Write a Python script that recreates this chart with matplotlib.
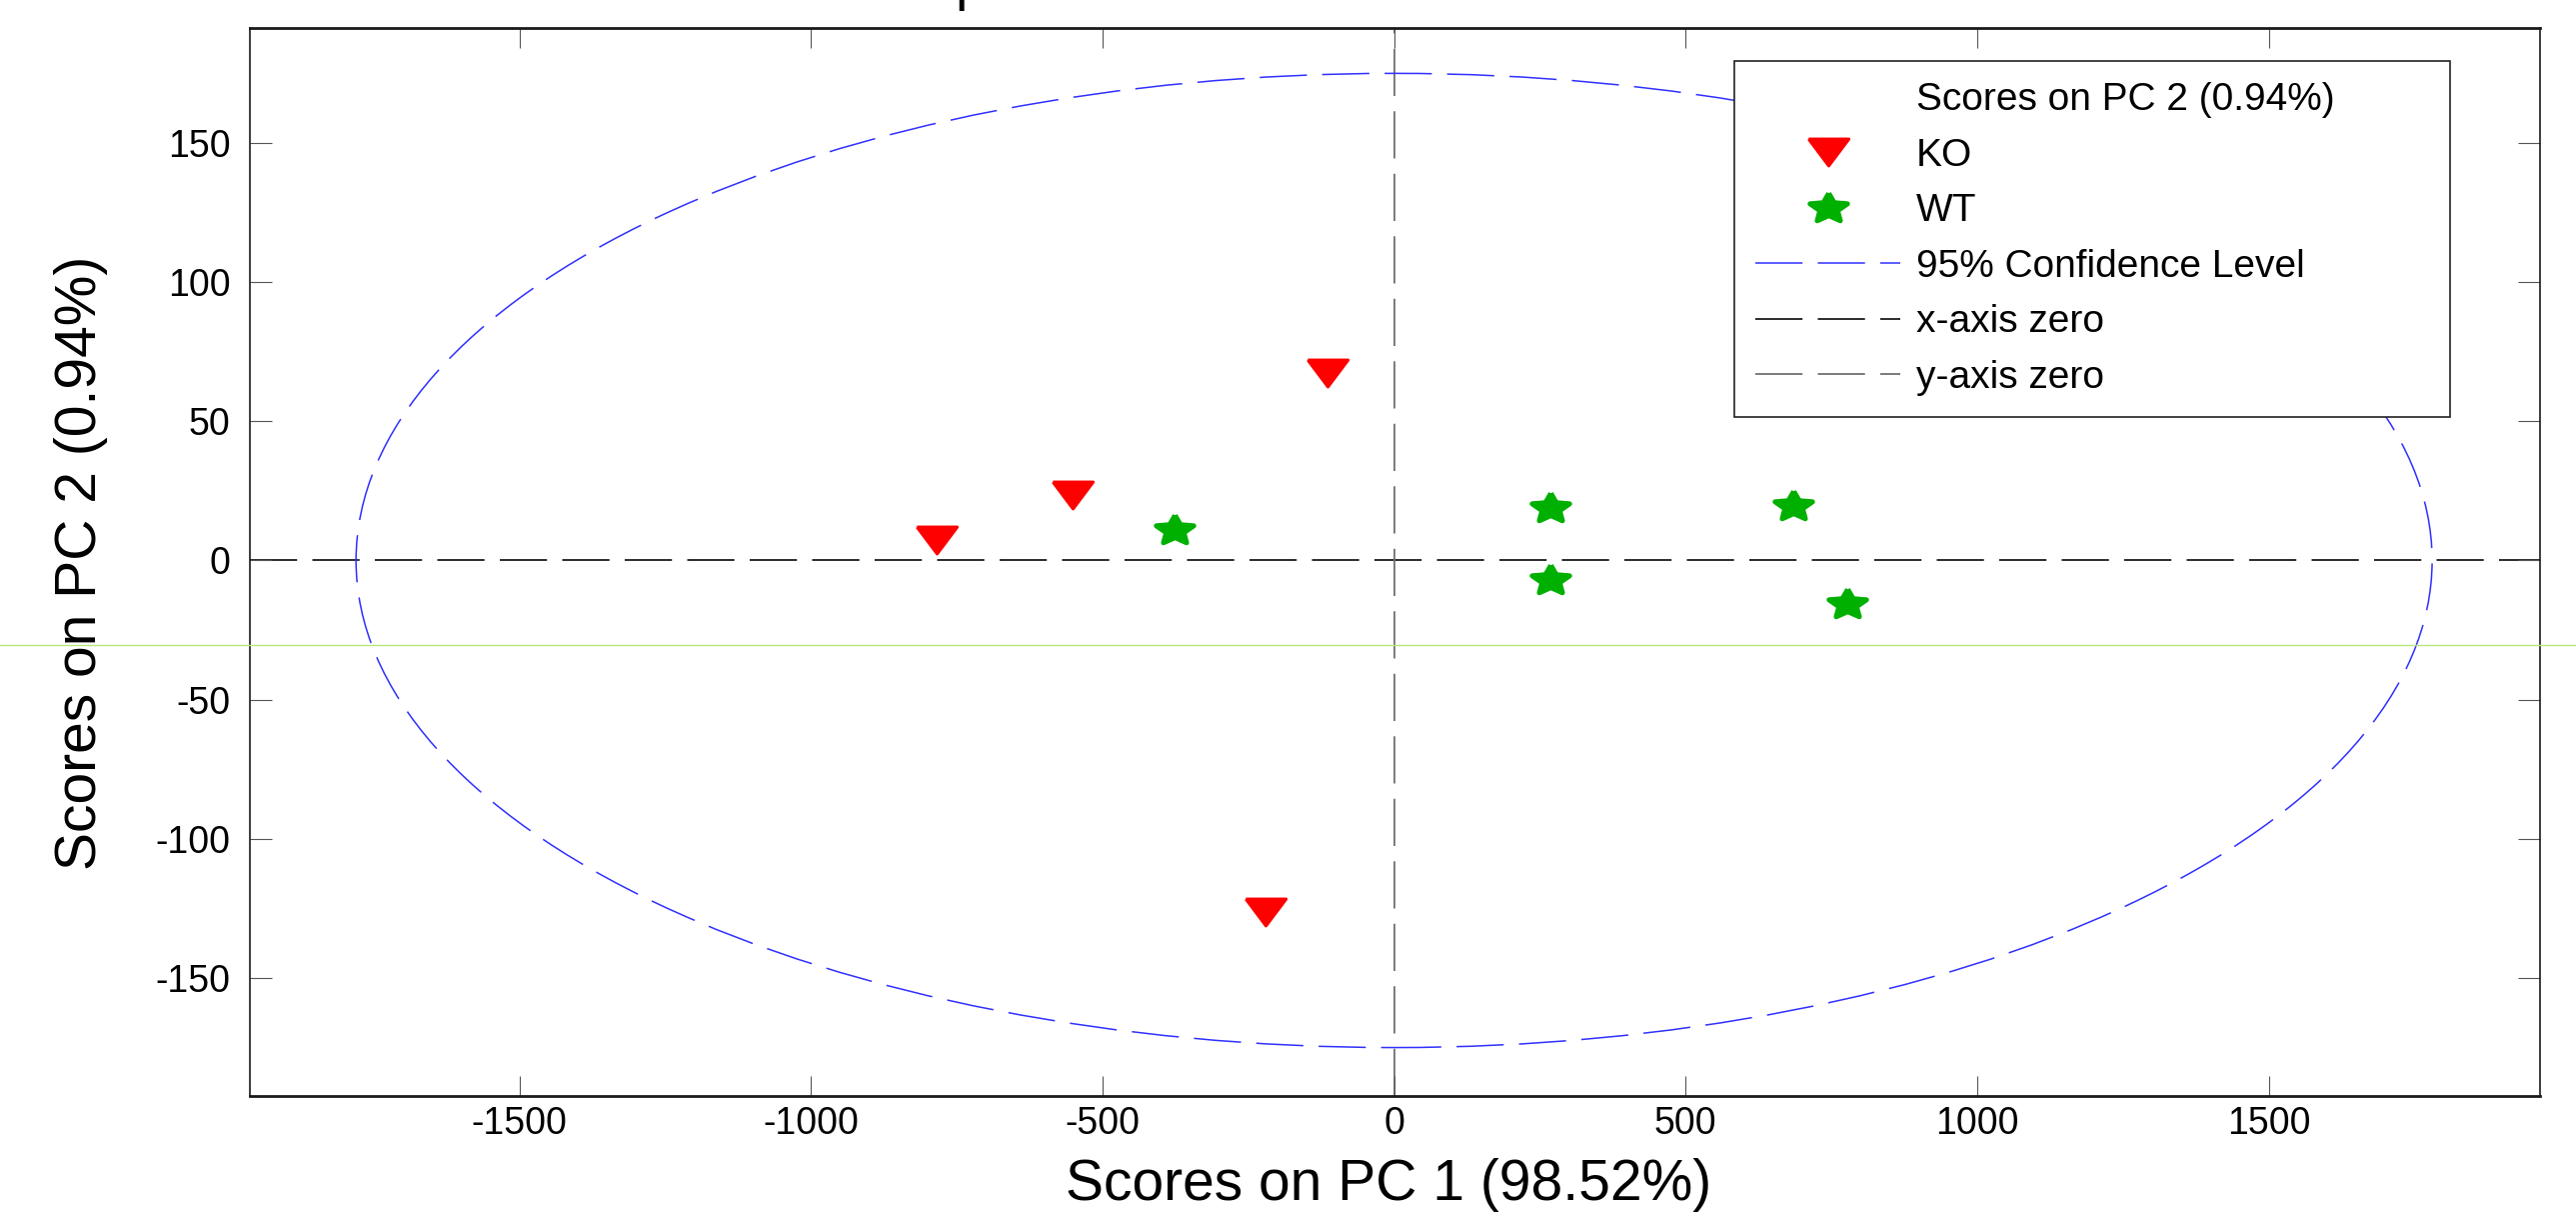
import numpy as np
import matplotlib
matplotlib.use("Agg")
import matplotlib.pyplot as plt
from matplotlib.lines import Line2D
from matplotlib.patches import Ellipse
from matplotlib.markers import MarkerStyle
import matplotlib.transforms as mtransforms

plt.rcParams['font.family'] = ['Liberation Sans', 'DejaVu Sans']
plt.rcParams['lines.scale_dashes'] = False

# ---------------- data ----------------
ko_x = [-784, -551, -115, -220]
ko_y = [7.3, 23.5, 67.5, -126.3]
wt_x = [-376, 268, 268, 685, 777]
wt_y = [11.1, 18.7, -7.0, 19.7, -15.6]

ellipse_semi_x = 1780
ellipse_semi_y = 175

xticks = [-1500, -1000, -500, 0, 500, 1000, 1500]
yticks = [-150, -100, -50, 0, 50, 100, 150]
xlim = (-1962, 1965)
ylim = (-192.4, 191.3)

guide_y = -30.5  # light green horizontal line across the whole figure

xlabel = "Scores on PC 1 (98.52%)"
ylabel = "Scores on PC 2 (0.94%)"
legend_labels = ["Scores on PC 2 (0.94%)", "KO", "WT",
                 "95% Confidence Level", "x-axis zero", "y-axis zero"]
title_text = "Samples/Scores Plot"

# ---------------- styles ----------------
W, H = 2577, 1221
fig = plt.figure(figsize=(W / 100, H / 100), dpi=100)
L, R, T, B = 250, 2541, 28, 1096
ax = fig.add_axes([L / W, 1 - B / H, (R - L) / W, (B - T) / H])

dash = (0, (34, 11))
red = '#ff0000'
green = '#00b000'
blue = '#3030ff'

tri_verts = [(-1.5, 1.0), (1.5, 1.0), (0.0, -1.0), (-1.5, 1.0)]
ang = np.deg2rad(90 + np.arange(10) * 36)
rad = np.where(np.arange(10) % 2 == 0, 1.0, 0.47)
star_verts = [(1.3 * r * np.cos(a), r * np.sin(a)) for r, a in zip(rad, ang)]
star_verts.append(star_verts[0])
tri = MarkerStyle(tri_verts, joinstyle='round')
star = MarkerStyle(star_verts, joinstyle='round')

# ellipse
ell = Ellipse((0, 0), 2 * ellipse_semi_x, 2 * ellipse_semi_y, fill=False,
              edgecolor=blue, linewidth=1.1, linestyle=dash, zorder=2)
ax.add_patch(ell)

# zero lines
ax.axhline(0, color='#1a1a1a', linewidth=1.3, linestyle=dash, zorder=1)
ax.axvline(0, color='#707070', linewidth=1.3, linestyle=dash, zorder=1)

# points
tri_kw = dict(marker=tri, markersize=29, markerfacecolor=red,
              markeredgecolor=red, markeredgewidth=2.2)
star_kw = dict(marker=star, markersize=27, markerfacecolor=green,
               markeredgecolor=green, markeredgewidth=3.6)
ax.plot(ko_x, ko_y, linestyle='none', zorder=3, **tri_kw)
ax.plot(wt_x, wt_y, linestyle='none', zorder=3, **star_kw)

ax.set_xlim(*xlim)
ax.set_ylim(*ylim)
ax.set_xticks(xticks)
ax.set_yticks(yticks)
ax.set_xticklabels([str(v) for v in xticks])
ax.set_yticklabels([str(v) for v in yticks])
ax.tick_params(axis='both', direction='in', top=True, right=True,
               color='#555555', width=0.8, labelsize=27, labelcolor='black')
ax.tick_params(axis='x', length=14.4, pad=7)
ax.tick_params(axis='y', length=16, pad=14)

for s in ['top', 'bottom']:
    ax.spines[s].set_linewidth(2.0)
for s in ['left', 'right']:
    ax.spines[s].set_linewidth(1.2)
for s in ax.spines.values():
    s.set_color('#1a1a1a')

ax.set_xlabel(xlabel, fontsize=41, va='top')
ax.xaxis.set_label_coords((1389 - L) / (R - L), (B - 1158) / (B - T))
ax.set_ylabel(ylabel, fontsize=41)
ax.yaxis.set_label_coords((108 - L) / (R - L), (B - 563) / (B - T))

# legend
handles = [
    Line2D([], [], linestyle='none', marker=None),
    Line2D([], [], linestyle='none', **tri_kw),
    Line2D([], [], linestyle='none', **star_kw),
    Line2D([], [], color=blue, linewidth=1.1, linestyle=dash),
    Line2D([], [], color='#1a1a1a', linewidth=1.3, linestyle=dash),
    Line2D([], [], color='#707070', linewidth=1.3, linestyle=dash),
]
lx0, lx1, ly0, ly1 = 1735, 2451, 61, 408
leg = ax.legend(handles, legend_labels, loc='upper left',
                bbox_to_anchor=(lx0 / W, 1 - ly1 / H, (lx1 - lx0) / W, (ly1 - ly0) / H),
                bbox_transform=fig.transFigure, mode='expand',
                fontsize=28, frameon=True, fancybox=False, edgecolor='#222222',
                framealpha=1, borderaxespad=0, borderpad=0.55, handlelength=3.72,
                handletextpad=0.4, labelspacing=0.5, numpoints=1)
leg.get_frame().set_linewidth(1.2)
leg.set_zorder(5)

# light green guide line across the full figure width
tr = mtransforms.blended_transform_factory(fig.transFigure, ax.transData)
fig.add_artist(Line2D([0, 1], [guide_y, guide_y], transform=tr,
                      color='#b5e878', linewidth=1.0, zorder=10))

# clipped title at top (only a descender shows inside the canvas)
fig.text(842 / W, 1 + 1 / H, title_text, fontsize=40, ha='left', va='baseline')

fig.savefig('out.png', dpi=100)
